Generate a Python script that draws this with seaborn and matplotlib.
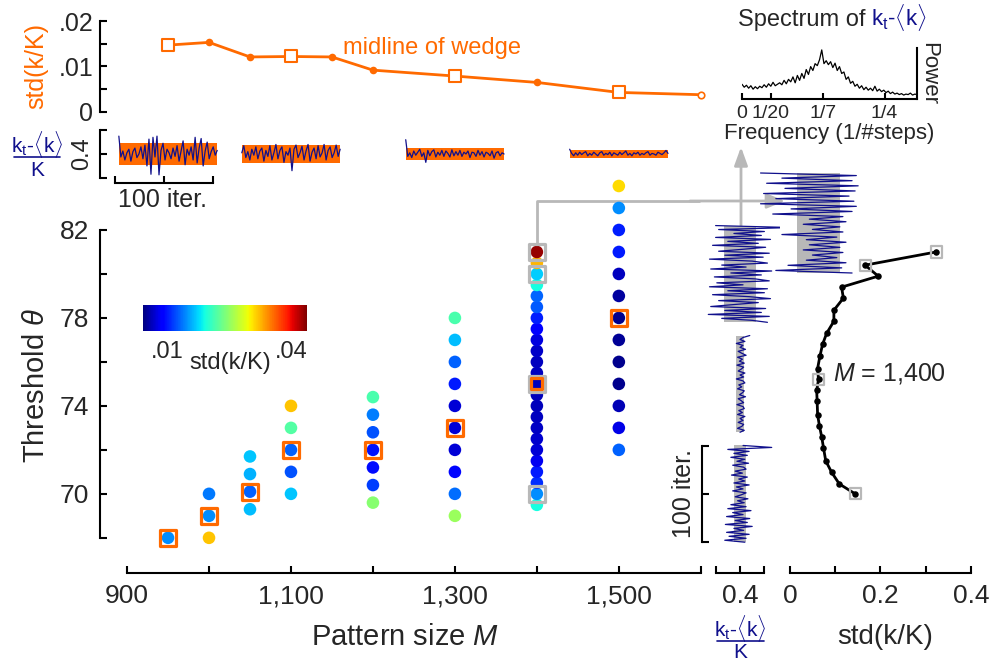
import numpy as np
import pandas as pd
import matplotlib
matplotlib.use('Agg')
import matplotlib.pyplot as plt
import seaborn as sns
from matplotlib.patches import Rectangle
from matplotlib.colors import Normalize
from matplotlib.cm import ScalarMappable

# ---------------- data ----------------
# top panel: std(k/K) along the midline of the wedge
mid_M = [950, 1000, 1050, 1100, 1150, 1200, 1300, 1400, 1500, 1600]
mid_std = [0.0147, 0.0153, 0.0121, 0.0122, 0.0121, 0.0092, 0.0079, 0.0065, 0.0043, 0.0038]
mid_boxed_M = [950, 1100, 1300, 1500]

# strip of time series under top panel
strip_M = [950, 1100, 1300, 1500]
strip_band = [0.19, 0.145, 0.094, 0.06]
s950 = [0.30, -0.05, 0.05, -0.10, 0.02, 0.08, -0.12, 0.04, 0.10, -0.06, 0.00, 0.12, -0.08, 0.15, -0.20,
        0.25, -0.34, 0.28, -0.05, 0.30, -0.35, 0.06, 0.18, -0.10, 0.08, 0.02, -0.08, 0.10, -0.04, 0.14,
        -0.12, 0.05, 0.22, -0.18, 0.08, -0.02, 0.12, -0.10, 0.28, -0.15, 0.10, 0.26, -0.20, 0.05, 0.20,
        -0.08, 0.04, 0.12, -0.02, 0.06]
s1100 = [0.02, 0.14, -0.06, 0.04, -0.10, 0.08, -0.02, 0.12, -0.08, 0.05, 0.10, -0.12, 0.06, -0.04, 0.14,
         -0.10, 0.02, 0.16, -0.08, 0.06, 0.12, -0.14, 0.04, -0.02, 0.10, -0.28, 0.08, 0.15, -0.06, 0.02,
         0.13, -0.10, 0.05, 0.16, -0.12, 0.03, 0.10, -0.08, 0.14, -0.05, 0.02, 0.16, -0.10, 0.06, 0.12,
         -0.06, 0.02, 0.15, -0.04, 0.08]
s1300 = [0.24, -0.04, 0.02, -0.06, 0.05, -0.02, 0.03, 0.08, -0.04, 0.02, -0.14, 0.06, -0.03, 0.04, 0.07,
         -0.05, 0.03, -0.02, 0.06, -0.04, 0.05, 0.01, -0.05, 0.07, -0.03, 0.04, -0.02, 0.06, -0.04, 0.03,
         0.00, 0.05, -0.06, 0.03, 0.02, -0.04, 0.06, -0.02, 0.04, -0.05, 0.03, 0.01, -0.03, 0.05, -0.07,
         0.02, 0.04, -0.03, 0.02, 0.00]
s1500 = [0.08, 0.01, -0.03, 0.02, -0.02, 0.03, -0.01, 0.02, 0.04, -0.03, 0.01, -0.02, 0.03, 0.00, -0.03,
         0.02, 0.04, -0.02, 0.01, -0.01, 0.03, -0.03, 0.02, 0.00, -0.02, 0.03, -0.01, 0.02, 0.05, -0.02,
         0.01, -0.03, 0.02, 0.00, 0.03, -0.02, 0.01, -0.01, 0.02, 0.04, -0.02, 0.01, 0.00, -0.02, 0.03,
         0.01, -0.01, 0.02, 0.06, 0.01]
strip_series = [s950, s1100, s1300, s1500]

# main scatter: threshold vs pattern size, coloured by std(k/K)
col_M = [950, 1000, 1050, 1100, 1200, 1300, 1400, 1500]
col_theta = [
    [68],
    [70, 69, 68],
    [71.7, 70.9, 70.1, 69.3],
    [74, 73, 72, 71, 70],
    [74.4, 73.6, 72.8, 72.0, 71.2, 70.4, 69.6],
    [78, 77, 76, 75, 74, 73, 72, 71, 70, 69],
    [69.5, 70, 70.5, 71, 71.5, 72, 72.5, 73, 73.5, 74, 74.5, 75, 75.5, 76, 76.5, 77, 77.5, 78, 78.5,
     79, 79.5, 80, 80.5, 81],
    [84, 83, 82, 81, 80, 79, 78, 77, 76, 75, 74, 73, 72],
]
col_std = [
    [0.0146],
    [0.0138, 0.0146, 0.032],
    [0.0168, 0.016, 0.0128, 0.0165],
    [0.032, 0.022, 0.0128, 0.0122, 0.0168],
    [0.0215, 0.014, 0.0122, 0.0098, 0.0095, 0.0115, 0.0245],
    [0.0215, 0.0165, 0.0128, 0.0101, 0.0071, 0.0071, 0.0072, 0.0093, 0.0134, 0.0255],
    [0.019, 0.0146, 0.0109, 0.0100, 0.0080, 0.0072, 0.0068, 0.0065, 0.0063, 0.0062, 0.0062, 0.0062,
     0.0063, 0.0064, 0.0066, 0.0074, 0.0090, 0.0102, 0.0125, 0.0130, 0.0190, 0.0170, 0.0325, 0.043],
    [0.031, 0.0146, 0.0103, 0.0100, 0.0063, 0.0052, 0.0046, 0.0050, 0.0046, 0.0047, 0.0060, 0.0078, 0.0128],
]
std_min, std_max = 0.0041, 0.0438
orange_box_M = [950, 1000, 1050, 1100, 1200, 1300, 1400, 1500]
orange_box_theta = [68, 69, 70.1, 72, 72, 73, 75, 78]
gray_box_M = [1400, 1400, 1400, 1400]
gray_box_theta = [70, 75, 80, 81]

# right panel: std(k/K) vs threshold at M = 1,400
r_theta = [70, 70.45, 70.98, 71.5, 72.1, 72.6, 73.1, 73.6, 74.2, 74.7, 75.2, 75.7, 76.25, 76.8, 77.3,
           77.85, 78.35, 78.9, 79.4, 79.9, 80.4, 81]
r_std = [0.144, 0.109, 0.092, 0.079, 0.074, 0.070, 0.065, 0.061, 0.060, 0.059, 0.063, 0.061, 0.066,
         0.072, 0.081, 0.097, 0.097, 0.118, 0.114, 0.195, 0.166, 0.323]
r_boxed_theta = [70, 75.2, 80.4, 81]

# vertical time series at M = 1,400
v_theta = [80, 75, 70]
v_band = [0.27, 0.065, 0.106]
v80 = [-0.40, 0.85, -0.35, 0.40, -0.10, 0.35, -0.40, 0.50, -0.20, 0.30, -0.45, 0.42, 0.05, -0.35, 0.48,
       -0.25, 0.38, -0.50, 0.20, 0.45, -0.30, 0.10, -0.48, 0.52, -0.15, 0.35, -0.42, 0.25, 0.48, -0.38,
       0.05, -0.50, 0.45, -0.20, 0.40, -0.45, 0.15, 0.50, -0.35, 0.30, -0.10, -0.48, 0.42, -0.25, 0.35,
       -0.52, 0.48, -0.30, 0.20, 0.45]
v75 = [0.16, 0.05, 0.00, 0.08, -0.06, 0.05, 0.00, 0.09, -0.03, 0.03, 0.10, -0.04, 0.04, -0.01, 0.07,
       -0.05, 0.06, 0.02, -0.03, 0.08, 0.00, 0.06, -0.06, 0.05, 0.08, -0.02, 0.03, -0.04, 0.07, 0.04,
       -0.01, 0.09, -0.03, 0.02, 0.06, -0.05, 0.05, 0.07, -0.02, 0.04, -0.04, 0.08, 0.00, 0.05, -0.03,
       0.06, 0.03, -0.04, 0.07, 0.00]
v70 = [0.05, 0.52, -0.20, 0.15, -0.10, 0.12, -0.15, 0.08, -0.05, 0.14, -0.12, 0.06, 0.10, -0.08, 0.04,
       -0.14, 0.12, -0.02, 0.08, -0.10, 0.15, -0.06, 0.05, -0.12, 0.10, 0.02, -0.08, 0.13, -0.04, 0.07,
       -0.15, 0.10, -0.20, 0.18, -0.12, 0.05, -0.22, 0.16, -0.08, 0.12, -0.24, 0.20, -0.10, 0.06, -0.22,
       0.15, -0.18, 0.10, -0.25, 0.08]
v_series = [v80, v75, v70]
big_band = 0.35
v81 = [-0.95, 0.62, -0.60, 0.55, -0.85, 0.65, -0.55, 0.60, -0.90, 0.50, -0.70, 0.58, -0.95, 0.62, -0.45,
       0.55, -0.75, 0.40, -0.15, 0.45, -0.25, 0.35, -0.10, 0.40, -0.60, 0.30, -0.20, 0.45, -0.15, 0.35,
       -0.25, 0.40, -0.10, 0.30, -0.20, 0.45, -0.50, 0.38, -0.70, 0.55]

# spectrum of k_t - <k>
spec_power = [0.30, 0.24, 0.28, 0.22, 0.27, 0.20, 0.25, 0.21, 0.26, 0.23, 0.29, 0.24, 0.31, 0.26, 0.34,
              0.27, 0.30, 0.33, 0.29, 0.38, 0.31, 0.40, 0.35, 0.45, 0.33, 0.48, 0.38, 0.52, 0.42, 0.60,
              0.50, 0.66, 0.58, 0.72, 0.68, 0.80, 1.00, 0.72, 0.78, 0.70, 0.76, 0.64, 0.73, 0.58, 0.66,
              0.52, 0.55, 0.40, 0.45, 0.32, 0.36, 0.26, 0.30, 0.22, 0.27, 0.19, 0.24, 0.18, 0.22, 0.17,
              0.26, 0.16, 0.20, 0.15, 0.18, 0.13, 0.16, 0.11, 0.14, 0.10, 0.12, 0.09, 0.11, 0.08, 0.10,
              0.09, 0.12, 0.08, 0.10, 0.09]
spec_fmax = 0.307
spec_ticks = [0, 1 / 20, 1 / 7, 1 / 4]
spec_ticklabels = ['0', '1/20', '1/7', '1/4']

# ---------------- style ----------------
sns.set_theme(style='ticks')
plt.rcParams['font.family'] = ['Liberation Sans', 'DejaVu Sans']
plt.rcParams['mathtext.fontset'] = 'custom'
plt.rcParams['mathtext.rm'] = 'Liberation Sans'
plt.rcParams['mathtext.it'] = 'Liberation Sans:italic'
plt.rcParams['mathtext.bf'] = 'Liberation Sans:bold'
plt.rcParams['axes.linewidth'] = 1.5
plt.rcParams['xtick.direction'] = 'in'
plt.rcParams['ytick.direction'] = 'in'

ORANGE = '#FF6A00'
NAVY = '#10108C'
GRAY = '#b8b8b8'
JET = matplotlib.colormaps['jet']
W, H = 989, 661
fig = plt.figure(figsize=(W / 100, H / 100), dpi=100)


def add_ax(l, t, r, b, **kw):
    return fig.add_axes([l / W, 1 - b / H, (r - l) / W, (b - t) / H], **kw)


def clean(ax, keep=()):
    for s in ['top', 'right', 'left', 'bottom']:
        ax.spines[s].set_visible(s in keep)
        ax.spines[s].set_color('black')
    ax.set_facecolor('none')
    ax.set_xlabel('')
    ax.set_ylabel('')


KFRAC_NUM = r'k$_\mathregular{t}$-$\langle$k$\rangle$'

# overlay for connector arrows and fraction bars (drawn first, below)
ov = add_ax(0, 0, W, H)
ov.set_xlim(0, W)
ov.set_ylim(H, 0)
ov.axis('off')

XLIM = (867, 1610)
YLIM = (66.4, 84.5)

# ---------------- main scatter ----------------
main = add_ax(100, 175, 709, 573)
rows = []
for m, ths, sds in zip(col_M, col_theta, col_std):
    for t, s in zip(ths, sds):
        rows.append((m, t, s))
df = pd.DataFrame(rows, columns=['M', 'theta', 'std'])
norm = Normalize(std_min, std_max)
sns.scatterplot(data=df, x='M', y='theta', hue='std', palette=JET, hue_norm=norm, s=82,
                linewidth=0, legend=False, ax=main, zorder=2)
gray_pairs = set(zip(gray_box_M, gray_box_theta))
osz = [62 if (m, t) in gray_pairs else 135 for m, t in zip(orange_box_M, orange_box_theta)]
main.scatter(gray_box_M, gray_box_theta, marker='s', s=140, facecolors='none', edgecolors=GRAY,
             linewidths=2.3, zorder=3)
main.scatter(orange_box_M, orange_box_theta, marker='s', s=osz, facecolors='none', edgecolors=ORANGE,
             linewidths=2.3, zorder=4)
main.set_xlim(*XLIM)
main.set_ylim(*YLIM)
clean(main, keep=('left', 'bottom'))
main.spines['left'].set_bounds(68, 82)
main.spines['bottom'].set_bounds(900, 1600)
main.set_xticks(list(range(900, 1601, 100)))
main.set_xticklabels(['900', '', '1,100', '', '1,300', '', '1,500', ''])
main.set_yticks(list(range(68, 83, 2)))
main.set_yticklabels(['', '70', '', '74', '', '78', '', '82'])
main.tick_params(axis='both', direction='in', length=5, width=1.5, labelsize=19, color='black', pad=8,
                 bottom=True, left=True)
fig.text(405 / W, 1 - 637 / H, 'Pattern size $M$', fontsize=21, ha='center', va='center')
fig.text(36 / W, 1 - 385 / H, r'Threshold $\theta$', fontsize=21, ha='center', va='center', rotation=90)

# colorbar
cax = add_ax(143, 305, 307, 331)
sm = ScalarMappable(norm=norm, cmap=JET)
cb = fig.colorbar(sm, cax=cax, orientation='horizontal', ticks=[0.01, 0.02, 0.03, 0.04])
cb.outline.set_visible(False)
cax.set_xticklabels(['.01', '', '', '.04'])
cax.tick_params(axis='x', direction='in', color='white', length=4, width=1.2, labelsize=17, pad=7,
                bottom=True)
fig.text(230 / W, 1 - 363 / H, 'std(k/K)', fontsize=17, ha='center', va='center')

# ---------------- top panel ----------------
top = add_ax(100, 18, 709, 116)
sns.lineplot(x=mid_M, y=mid_std, color=ORANGE, lw=2, estimator=None, sort=False, ax=top)
dot_M = [m for m in mid_M[:-1] if m not in mid_boxed_M]
dot_std = [s for m, s in zip(mid_M[:-1], mid_std[:-1]) if m not in mid_boxed_M]
top.scatter(dot_M, dot_std, s=30, color=ORANGE, linewidths=0, zorder=3)
box_std = [s for m, s in zip(mid_M, mid_std) if m in mid_boxed_M]
top.scatter(mid_boxed_M, box_std, marker='s', s=70, facecolors='white', edgecolors=ORANGE,
            linewidths=1.5, zorder=3)
top.scatter(mid_M[-1:], mid_std[-1:], s=22, facecolors='white', edgecolors=ORANGE, linewidths=1.2, zorder=3)
top.set_xlim(*XLIM)
top.set_ylim(-0.00088, 0.02066)
clean(top, keep=('left',))
top.spines['left'].set_bounds(0, 0.02)
top.set_xticks([])
top.set_yticks([0, 0.005, 0.01, 0.015, 0.02])
top.set_yticklabels(['0', '', '.01', '', '.02'])
top.tick_params(axis='y', direction='in', length=5, width=1.5, labelsize=18, pad=5, color='black', left=True)
fig.text(36 / W, 1 - 66 / H, 'std(k/K)', fontsize=18, color=ORANGE, ha='center', va='center', rotation=90)
fig.text(343 / W, 1 - 48 / H, 'midline of wedge', fontsize=17, color=ORANGE, ha='left', va='center')

# ---------------- strip of series ----------------
strip = add_ax(100, 126, 709, 182)
for m, band, ser in zip(strip_M, strip_band, strip_series):
    n = len(ser)
    xs = m - 60 + np.arange(n) * 120 / (n - 1)
    strip.add_patch(Rectangle((m - 60, -band), 120, 2 * band, color=ORANGE, lw=0, zorder=1))
    sns.lineplot(x=xs, y=ser, color=NAVY, lw=0.9, estimator=None, sort=False, ax=strip, zorder=2)
strip.set_xlim(*XLIM)
strip.set_ylim(-0.47, 0.47)
clean(strip, keep=('left',))
strip.spines['left'].set_bounds(-0.4, 0.4)
strip.set_xticks([])
strip.set_yticks([-0.4, 0, 0.4])
strip.set_yticklabels(['', '0.4', ''])
strip.tick_params(axis='y', direction='in', length=5, width=1.5, labelsize=17, pad=5, color='black', left=True)
for lbl in strip.get_yticklabels():
    lbl.set_rotation(90)
    lbl.set_va('center')
fig.text(37 / W, 1 - 145 / H, KFRAC_NUM, fontsize=15, color=NAVY, ha='center', va='center')
fig.text(37 / W, 1 - 171 / H, 'K', fontsize=15, color=NAVY, ha='center', va='center')
ov.plot([14, 60], [157, 157], color=NAVY, lw=1.2)

# horizontal scale bar
hbar = add_ax(115, 172, 213, 183)
hbar.set_xlim(0, 100)
hbar.set_ylim(0, 1)
clean(hbar, keep=('bottom',))
hbar.set_xticks([0, 50, 100])
hbar.set_xticklabels([])
hbar.set_yticks([])
hbar.tick_params(axis='x', direction='in', length=5, width=1.5, color='black', bottom=True)
fig.text(163 / W, 1 - 200 / H, '100 iter.', fontsize=18, ha='center', va='center')

# ---------------- spectrum ----------------
spec = add_ax(742, 45, 917, 99)
freqs = np.linspace(0, spec_fmax, len(spec_power))
sns.lineplot(x=freqs, y=spec_power, color='black', lw=0.9, estimator=None, sort=False, ax=spec)
spec.set_xlim(0, spec_fmax)
spec.set_ylim(0, 1.10)
clean(spec, keep=('bottom', 'right'))
spec.spines['right'].set_bounds(0, 1.04)
spec.set_xticks(spec_ticks)
spec.set_xticklabels(spec_ticklabels)
spec.set_yticks([])
spec.tick_params(axis='x', direction='in', length=4, width=1.5, labelsize=14, pad=4, color='black', bottom=True)
fig.text(866 / W, 1 - 26 / H, 'Spectrum of', fontsize=17, ha='right', va='baseline')
fig.text(871 / W, 1 - 26 / H, KFRAC_NUM, fontsize=16, color=NAVY, ha='left', va='baseline')
fig.text(929 / W, 1 - 73 / H, 'Power', fontsize=16, ha='center', va='center', rotation=270)
fig.text(829 / W, 1 - 133 / H, 'Frequency (1/#steps)', fontsize=16, ha='center', va='center')

# ---------------- k panel (vertical series) ----------------
kax = add_ax(700, 175, 780, 573)
for th, band, ser in zip(v_theta, v_band, v_series):
    n = len(ser)
    ys = th + 2.2 - np.arange(n) * 4.4 / (n - 1)
    kax.add_patch(Rectangle((-band, th - 2.2), 2 * band, 4.4, color=GRAY, lw=0, zorder=1))
    sns.lineplot(x=ser, y=ys, color=NAVY, lw=0.9, estimator=None, sort=False, orient='y', ax=kax, zorder=2)
kax.set_xlim(-0.656, 0.656)
kax.set_ylim(*YLIM)
clean(kax, keep=('bottom',))
kax.spines['bottom'].set_bounds(-0.4, 0.4)
kax.set_xticks([-0.4, 0, 0.4])
kax.set_xticklabels(['', '0.4', ''])
kax.set_yticks([])
kax.tick_params(axis='x', direction='in', length=5, width=1.5, labelsize=19, pad=8, color='black', bottom=True)
fig.text(740 / W, 1 - 628 / H, KFRAC_NUM, fontsize=15, color=NAVY, ha='center', va='center')
fig.text(740 / W, 1 - 653 / H, 'K', fontsize=15, color=NAVY, ha='center', va='center')
ov.plot([717, 764], [641, 641], color=NAVY, lw=1.2)

# vertical scale bar
vbar = add_ax(702, 446, 712, 542)
vbar.set_ylim(0, 100)
vbar.set_xlim(0, 1)
clean(vbar, keep=('left',))
vbar.set_yticks([0, 50, 100])
vbar.set_yticklabels([])
vbar.set_xticks([])
vbar.tick_params(axis='y', direction='in', length=5, width=1.5, color='black', left=True)
fig.text(684 / W, 1 - 494 / H, '100 iter.', fontsize=18, ha='center', va='center', rotation=90)

# big series (theta = 81)
bax = add_ax(750, 170, 870, 276)
n = len(v81)
bax.add_patch(Rectangle((-big_band, 0), 2 * big_band, 100, color=GRAY, lw=0, zorder=1))
sns.lineplot(x=v81, y=np.arange(n) * 100 / (n - 1), color=NAVY, lw=0.9, estimator=None, sort=False,
             orient='y', ax=bax, zorder=2)
bax.set_xlim(-1.123, 0.844)
bax.set_ylim(103, -3)
clean(bax)
bax.set_xticks([])
bax.set_yticks([])

# ---------------- right std panel ----------------
rax = add_ax(780, 175, 985, 573)
sns.lineplot(x=r_std, y=r_theta, color='black', lw=2, estimator=None, sort=False, orient='y', ax=rax)
rax.scatter(r_std, r_theta, s=22, color='black', linewidths=0, zorder=3)
rb_std = [s for t, s in zip(r_theta, r_std) if t in r_boxed_theta]
rax.scatter(rb_std, r_boxed_theta, marker='s', s=65, facecolors='none', edgecolors=GRAY,
            linewidths=1.6, zorder=4)
rax.set_xlim(-0.0221, 0.431)
rax.set_ylim(*YLIM)
clean(rax, keep=('bottom',))
rax.spines['bottom'].set_bounds(0, 0.4)
rax.set_xticks([0, 0.1, 0.2, 0.3, 0.4])
rax.set_xticklabels(['0', '', '0.2', '', '0.4'])
rax.set_yticks([])
rax.tick_params(axis='x', direction='in', length=5, width=1.5, labelsize=19, pad=8, color='black', bottom=True)
fig.text(833 / W, 1 - 373 / H, '$M$ = 1,400', fontsize=18, ha='left', va='center')
fig.text(885 / W, 1 - 637 / H, 'std(k/K)', fontsize=20, ha='center', va='center')

# ---------------- connector arrows ----------------
fig.canvas.draw()
def to_px(ax, x, y):
    X, Y = ax.transData.transform((x, y))
    return X, H - Y

x0, y0 = to_px(main, 1400, 81)
ov.plot([x0, x0, 700], [y0 - 9, 201, 201], color=GRAY, lw=2, solid_capstyle='butt')
ov.annotate('', xy=(785, 201), xytext=(690, 201),
            arrowprops=dict(arrowstyle='-|>,head_length=1.1,head_width=0.45', color=GRAY, lw=2,
                            shrinkA=0, shrinkB=0, mutation_scale=10))
ov.annotate('', xy=(741, 147), xytext=(741, 226),
            arrowprops=dict(arrowstyle='-|>,head_length=1.1,head_width=0.4', color=GRAY, lw=2,
                            shrinkA=0, shrinkB=0, mutation_scale=10))

fig.savefig('out.png', dpi=100)
